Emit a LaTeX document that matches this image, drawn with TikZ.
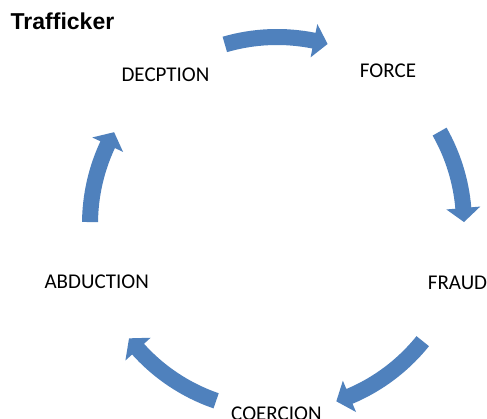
\documentclass[tikz,border=0pt]{standalone}
\usepackage{fontspec}
\setmainfont{Carlito}
\newfontfamily\titlefont{Liberation Sans}
\definecolor{arrowblue}{HTML}{4F81BD}
\tikzset{
  lbl/.style={font=\fontsize{21}{25}\selectfont, anchor=base, inner sep=0pt},
  ttl/.style={font=\titlefont\bfseries\fontsize{23}{27}\selectfont, anchor=base west, inner sep=0pt},
  arrowfill/.style={fill=arrowblue, draw=none}
}
\newcommand\cycarrow[2]{%
  \pgfmathsetmacro\hA{#2+4.3}%
  \fill[arrowfill] (#1:195) arc[start angle=#1, end angle=\hA, radius=195]
    -- (\hA:204) -- (#2:187) -- (\hA:170) -- (\hA:179)
    arc[start angle=\hA, end angle=#1, radius=179] -- cycle;
}
\begin{document}
\begin{tikzpicture}[x=1pt,y=1pt]
  \fill[white] (0,0) rectangle (487,419);
  \useasboundingbox (0,0) rectangle (487,419);
  \node[ttl] (title) at (10.5,389) {Trafficker};
  \node[lbl] (dec) at (165.5,337.3) {DECPTION};
  \node[lbl] (force) at (388,341.7) {FORCE};
  \node[lbl] (fraud) at (457.5,129.7) {FRAUD};
  \node[lbl] (abd) at (96.7,130.7) {ABDUCTION};
  \node[lbl] (coer) at (276.4,-2) {COERCION};
  \begin{scope}[shift={(277,195)}]
    \cycarrow{106.2}{74.3}
    \cycarrow{29.6}{0.6}
    \cycarrow{-38.8}{-71.5}
    \cycarrow{-109.0}{-142.3}
    \cycarrow{179.4}{150.6}
  \end{scope}
\end{tikzpicture}
\end{document}
